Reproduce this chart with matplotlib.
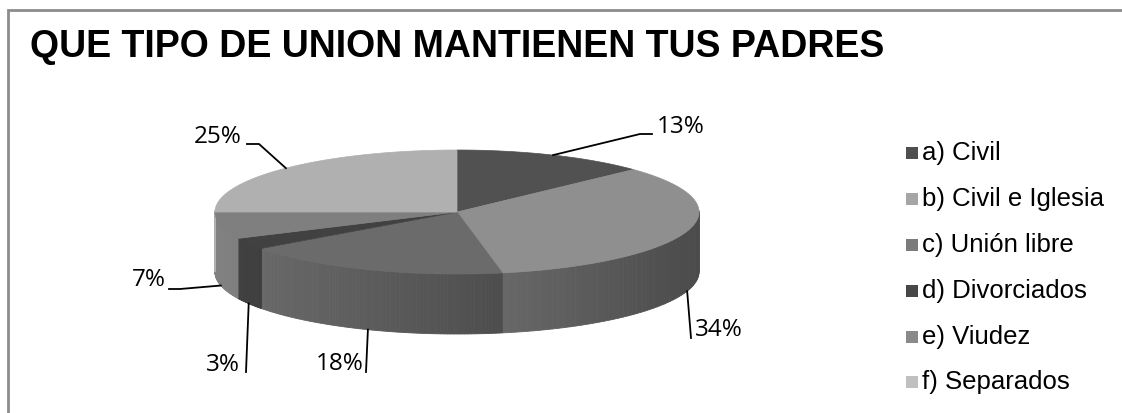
import numpy as np
import matplotlib.pyplot as plt
from matplotlib.patches import Polygon, Rectangle

# data
labels = ["a) Civil", "b) Civil e Iglesia", "c) Unión libre",
          "d) Divorciados", "e) Viudez", "f) Separados"]
values = [13, 34, 18, 3, 7, 25]
pct_text = ["13%", "34%", "18%", "3%", "7%", "25%"]
grays = ["#4f4f4f", "#a5a5a5", "#7b7b7b", "#474747", "#898989", "#c0c0c0"]
top_grays = ["#515151", "#8f8f8f", "#6b6b6b", "#414141", "#7f7f7f", "#b0b0b0"]

# layout (pixels)
cx, cy, rx, ry, depth = 457, 212, 242, 62, 60
label_pos = [(657, 127), (695, 330), (364, 364), (240, 365), (166, 280), (242, 137)]
label_ha = ["left", "left", "right", "right", "right", "right"]
leader_mid = [(640, 134), None, None, None, (180, 289), (259, 144)]
leader_end = [(652, 134), (691, 338), (366, 372), (246, 372), (169, 289), (247, 144)]

fig = plt.figure(figsize=(11.22, 4.13), dpi=100)
ax = fig.add_axes([0, 0, 1, 1])
ax.set_xlim(0, 1122)
ax.set_ylim(413, 0)
ax.axis("off")

# chart frame: only top and left edges are inside the picture
ax.plot([8, 8, 1122], [413, 10, 10], color="#8c8c8c", lw=2, solid_joinstyle="miter")


def shade(col, f):
    c = np.array([int(col[i:i + 2], 16) for i in (1, 3, 5)]) / 255
    return tuple(np.clip(c * f, 0, 1))


def pt(a):
    return cx + rx * np.cos(a), cy - ry * np.sin(a)


fracs = np.array(values) / sum(values)
starts = np.pi / 2 - 2 * np.pi * np.concatenate([[0], np.cumsum(fracs)[:-1]])
ends = starts - 2 * np.pi * fracs

# side walls (front half only), shaded darker to the right
for s, e, col in zip(starts, ends, top_grays):
    th = np.linspace(s, e, 80)
    for a0, a1 in zip(th[:-1], th[1:]):
        if np.sin(a0) > 0.02 and np.sin(a1) > 0.02:
            continue
        x0, y0 = pt(a0)
        x1, y1 = pt(a1)
        t = ((x0 + x1) / 2 - (cx - rx)) / (2 * rx)
        f = 1.02 - 0.5 * t
        ax.add_patch(Polygon([(x0, y0), (x1, y1), (x1, y1 + depth), (x0, y0 + depth)],
                             closed=True, facecolor=shade(col, f), edgecolor=shade(col, f),
                             lw=0.6))

# top faces
for s, e, col in zip(starts, ends, top_grays):
    th = np.linspace(s, e, 120)
    xs, ys = pt(th)
    poly = [(cx, cy)] + list(zip(xs, ys))
    ax.add_patch(Polygon(poly, closed=True, facecolor=col, edgecolor=col, lw=0.5))

# labels with leader lines
for i, (s, e) in enumerate(zip(starts, ends)):
    m = (s + e) / 2
    x, y = pt(m)
    if np.sin(m) < 0:
        y += depth
    pts = [(x, y)]
    if leader_mid[i] is not None:
        pts.append(leader_mid[i])
    pts.append(leader_end[i])
    ax.plot([p[0] for p in pts], [p[1] for p in pts], color="black", lw=1.3)
    ax.text(label_pos[i][0], label_pos[i][1], pct_text[i], ha=label_ha[i], va="center",
            fontsize=17.5, family="Open Sans", color="black")

# legend
leg_y = [153, 199, 245, 291, 337, 382]
for lab, col, yy in zip(labels, grays, leg_y):
    ax.add_patch(Rectangle((906, yy - 6), 12, 12, facecolor=col, edgecolor="none"))
    ax.text(922, yy, lab, ha="left", va="center", fontsize=18.5,
            family="Liberation Sans", color="black")

ax.text(30, 47, "QUE TIPO DE UNION MANTIENEN TUS PADRES", ha="left", va="center",
        fontsize=27, fontweight="bold", family="Liberation Sans", color="black")

fig.savefig("out.png", dpi=100)
